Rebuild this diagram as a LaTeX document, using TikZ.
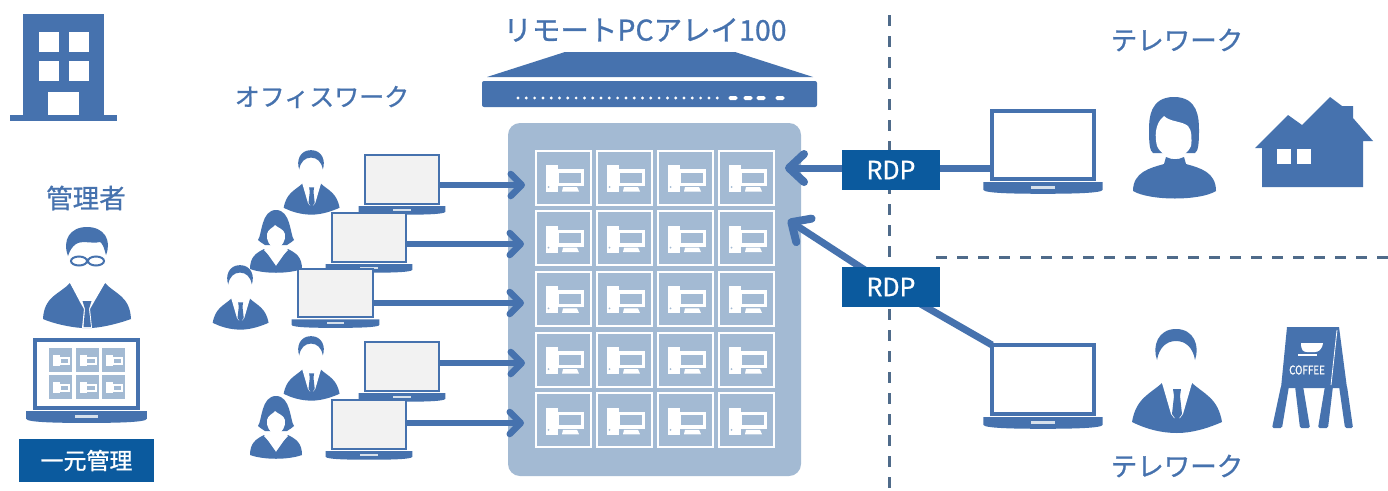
\documentclass[tikz,border=0pt]{standalone}
\usepackage{fontspec}
\setmainfont[RawFeature={embolden=0.9}]{Noto Sans CJK JP}
\usetikzlibrary{arrows.meta,calc}
\definecolor{blu}{HTML}{4672AE}
\definecolor{navy}{HTML}{0B5A9E}
\definecolor{panel}{HTML}{A3BAD3}
\definecolor{dsh}{HTML}{4F6B8A}
\tikzset{
  scr/.style={draw=blu,line width=#1,anchor=north west,inner sep=0pt,outer sep=0pt},
  ttl/.style={text=blu,inner sep=0pt,font=\fontsize{26.5}{26.5}\selectfont},
  tagbox/.style={fill=navy,text=white,inner sep=0pt,minimum height=40pt,minimum width=98pt,font=\fontsize{25}{25}\selectfont},
  thinarrow/.style={draw=blu,line width=5.5pt,-{Straight Barb[length=11pt,width=22pt,line width=6.5pt,round]}},
  bigarrow/.style={draw=blu,line width=7pt,-{Straight Barb[length=15pt,width=28pt,line width=8pt,round]}},
  plain/.style={draw=blu,line width=7pt},
  sep/.style={draw=dsh,line width=3pt,dash pattern=on 11pt off 10pt},
  pics/man/.style={code={
    \fill[blu] (-19,-72) .. controls (-24,-86) and (-18,-103) .. (0,-103) .. controls (18,-103) and (24,-86) .. (19,-72)
       .. controls (17,-84) and (10,-91) .. (0,-91) .. controls (-10,-91) and (-17,-84) .. (-19,-72) -- cycle;
    \fill[blu] (-14,-49) -- (-1,-18) -- (4,-18) -- (16,-49) .. controls (28,-38) and (42,-34) .. (46,-10)
       .. controls (30,-3) and (15,1) .. (1,1) .. controls (-15,1) and (-30,-3) .. (-44,-10) .. controls (-40,-34) and (-26,-38) .. (-14,-49) -- cycle;
    \fill[white] (-14,-49) -- (-5,-18) -- (-2,-14) -- (4,-14) -- (7,-18) -- (16,-49) -- cycle;
    \fill[blu] (-3,-43) -- (5,-43) -- (4,-36) -- (6,-18) -- (1,-11) -- (-4,-18) -- (-2,-36) -- cycle;
  }},
  pics/woman/.style={code={
    \fill[blu] (-11,-27) .. controls (-14,-29) and (-16,-30) .. (-18,-32) .. controls (-14,-37) and (-15,-62) .. (0,-62)
      .. controls (15,-62) and (14,-37) .. (18,-32) .. controls (16,-30) and (14,-29) .. (11,-27) -- cycle;
    \fill[white] (-1,-47) .. controls (2,-44) and (8,-43) .. (9,-38) .. controls (10,-32) and (6,-24) .. (0,-24)
      .. controls (-6,-24) and (-10,-32) .. (-9,-38) .. controls (-8,-43) and (-3,-44) .. (-1,-47) -- cycle;
    \fill[blu] (-12,-23) -- (0,-6) -- (12,-23) .. controls (20,-19) and (26,-15) .. (26,-3)
       .. controls (12,2) and (-12,2) .. (-26,-3) .. controls (-26,-15) and (-20,-19) .. (-12,-23) -- cycle;
    \fill[white] (-6,-25) -- (6,-25) -- (6,-21) -- (12,-22) -- (5,-15) -- (0,-8) -- (-5,-15) -- (-12,-22) -- (-6,-21) -- cycle;
  }},
  pics/pcicon/.style={code={
    \fill[white] (11,15) rectangle (23,42);
    \fill[white] (23,19) rectangle (49,36);
    \fill[panel] (23.5,22.5) rectangle (45.5,32.5);
    \fill[white] (28,37) -- (42,37) -- (44,41.5) -- (27,41.5) -- cycle;
    \fill[panel] (13.5,37) circle (1);
  }},
  pics/tile/.style={code={
    \fill[panel] (0,0) rectangle (23,24);
    \fill[white] (4,7) rectangle (11,18);
    \fill[white] (11,9) rectangle (21,17);
    \fill[panel] (11.5,11) rectangle (19,15);
  }},
}
\newcommand{\lapt}[6]{%
  \node[scr=#6,fill=#5,minimum width={(#3-#1)*1pt},minimum height={(#4-#2)*1pt}] (#2#1) at (#1,#2) {};
}
\newcommand{\lapbase}[4]{%
  \pgfmathsetmacro{\bw}{#2-#1}\pgfmathsetmacro{\bm}{\bw*0.085}\pgfmathsetmacro{\bh}{\bw*0.115}\pgfmathsetmacro{\bg}{\bw*0.03}
  \fill[blu] ({#1-\bm},{#3+\bg}) -- ({#2+\bm},{#3+\bg}) -- ({#2+\bm},{#3+\bg+\bh*.65})
     .. controls ({#2+\bm},{#3+\bg+\bh*.95}) and ({#2+\bm-\bw*.3},{#3+\bg+\bh}) .. ({(#1+#2)/2},{#3+\bg+\bh})
     .. controls ({#1-\bm+\bw*.3},{#3+\bg+\bh}) and ({#1-\bm},{#3+\bg+\bh*.95}) .. ({#1-\bm},{#3+\bg+\bh*.65}) -- cycle;
  \fill[panel!45!white] ({(#1+#2)/2-\bw*.115},{#3+\bg+\bh*.3}) rectangle ({(#1+#2)/2+\bw*.115},{#3+\bg+\bh*.55});
}
\begin{document}
\begin{tikzpicture}[x=1pt,y=-1pt]
\useasboundingbox (0,0) rectangle (1388,490);
\fill[white] (0,0) rectangle (1388,490);

% separators
\draw[sep] (889,15) -- (889,490);
\draw[sep] (936,257) -- (1388,257);

% building
\fill[blu] (23,14) rectangle (104,116);
\fill[blu] (10,115) rectangle (117,121);
\foreach \wx in {39,69} \foreach \wy in {32,61} \fill[white] (\wx,\wy) rectangle ++(20,20);
\fill[white] (48,92) rectangle (79,115);

% manager
\node[ttl] (admin) at (86,198) {管理者};
\fill[blu] (68,256) .. controls (62,240) and (70,227) .. (87,227) .. controls (104,227) and (112,240) .. (106,255)
   .. controls (104,248) and (103,244) .. (100,242) .. controls (92,244) and (82,240) .. (76,244) .. controls (72,247) and (70,250) .. (68,256) -- cycle;
\draw[blu,line width=2pt] (79,261) ellipse (8 and 4.5) (96,261) ellipse (8 and 4.5) (87,260) -- (88,260);
\fill[blu] (70,283) -- (82,303) -- (92,303) -- (105,283) .. controls (115,294) and (130,296) .. (131,319)
   .. controls (120,323) and (105,327) .. (92,328) -- (82,328) .. controls (68,327) and (52,323) .. (43,319) .. controls (44,296) and (60,294) .. (70,283) -- cycle;
\fill[white] (70,283) -- (80,302) -- (84,309) -- (82,328) -- (92,328) -- (90,309) -- (94,302) -- (105,283) -- cycle;
\fill[blu] (82.5,301) -- (91.5,301) -- (89,309) -- (91,327) -- (83.5,327) -- (85,309) -- cycle;
\lapt{35}{340}{138}{408}{white}{4pt}
\lapbase{35}{138}{408}{}
\foreach \tx in {0,1,2} \foreach \ty in {0,1} \pic at ({49+\tx*26.5},{348+\ty*27}) {tile};
\node[fill=navy,text=white,inner sep=0pt,minimum width=135pt,minimum height=43pt,font=\fontsize{23}{23}\selectfont] (mgmt) at (86.5,460.5) {一元管理};

% office
\node[ttl,font=\fontsize{25}{25}\selectfont] (office) at (322,97) {オフィスワーク};
\pic[scale=.62] at (311,214) {man};
\pic at (276,272) {woman};
\pic[scale=.62] at (240,329) {man};
\pic[scale=.62] at (311,400) {man};
\pic at (276,458) {woman};

\lapt{365}{155}{439}{204}{black!5}{2.5pt}
\lapbase{365}{439}{204}{}
\lapt{332}{213}{406}{262}{black!5}{2.5pt}
\lapbase{332}{406}{262}{}
\lapt{298}{269}{373}{317}{black!5}{2.5pt}
\lapbase{298}{373}{317}{}
\lapt{365}{342}{439}{391}{black!5}{2.5pt}
\lapbase{365}{439}{391}{}
\lapt{332}{400}{406}{449}{black!5}{2.5pt}
\lapbase{332}{406}{449}{}

% server
\node[ttl,font=\fontsize{28.5}{28.5}\selectfont] (arraylabel) at (645,30) {リモートPCアレイ100};
\fill[blu] (487,77) -- (565,52) -- (735,52) -- (813,77) -- cycle;
\fill[blu,rounded corners=2pt] (482,81) rectangle (817,107);
\foreach \i in {0,...,24} \fill[white] ({518+\i*8.3},98) circle (1.6);
\foreach \px in {733,748,761,780} \fill[white,rounded corners=1.7pt] ({\px-4.5},96) rectangle ({\px+4.5},100);

% array
\node[fill=panel,rounded corners=12pt,inner sep=0pt,minimum width=293pt,minimum height=353pt] (array) at (654.5,299.5) {};
\foreach \cx in {0,1,2,3} \foreach \cy in {0,1,2,3,4} {
  \draw[white,line width=2pt] ({536+\cx*61},{150.5+\cy*60.7}) rectangle ++(55,54);
  \pic at ({535+\cx*61},{150+\cy*60.7}) {pcicon};
}

% office arrows
\coordinate (a1) at (525,185);
\coordinate (a2) at (524,244);
\coordinate (a3) at (524,303);
\coordinate (a4) at (525,363);
\coordinate (a5) at (524,423);
\draw[thinarrow] (a1 -| 155365.east) -- (a1);
\draw[thinarrow] (a2 -| 213332.east) -- (a2);
\draw[thinarrow] (a3 -| 269298.east) -- (a3);
\draw[thinarrow] (a4 -| 342365.east) -- (a4);
\draw[thinarrow] (a5 -| 400332.east) -- (a5);

% telework
\node[ttl] (tw1) at (1177,40) {テレワーク};
\node[ttl] (tw2) at (1177,466) {テレワーク};
\lapt{992}{111}{1094}{179}{white}{3.5pt}
\lapbase{992}{1094}{179}{}
\lapt{992}{345}{1094}{414}{white}{3.5pt}
\lapbase{992}{1094}{414}{}

\coordinate (b1) at (785,168);
\coordinate (b2) at (788,220);
\coordinate (rc) at (891,287);
\draw[plain] (b1 -| 111992.west) -- (b1 -| 891,0);
\draw[bigarrow] (b1 -| 891,0) -- (b1);
\draw[plain] (345992.north west) -- (rc);
\draw[bigarrow] (rc) -- (b2);
\node[tagbox] (rdpa) at (891,170) {RDP};
\node[tagbox] (rdpb) at (rc) {RDP};

% telework woman
\fill[blu] (1174,97) .. controls (1150,97) and (1149,118) .. (1149,130) .. controls (1149,145) and (1150,151) .. (1153,153)
   -- (1195,153) .. controls (1198,151) and (1199,145) .. (1199,130) .. controls (1199,118) and (1198,97) .. (1174,97) -- cycle;
\fill[white] (1164,116) .. controls (1170,122) and (1182,121) .. (1188,126) .. controls (1192,130) and (1192,140) .. (1191,146)
   .. controls (1188,153) and (1181,158) .. (1175,158) .. controls (1168,158) and (1160,153) .. (1157,146) .. controls (1155,138) and (1154,124) .. (1164,116) -- cycle;
\fill[blu] (1166,157) .. controls (1172,160) and (1178,160) .. (1184,157) -- (1186,164) .. controls (1200,168) and (1216,172) .. (1216,191)
   .. controls (1200,201) and (1150,201) .. (1133,191) .. controls (1133,172) and (1150,168) .. (1164,164) -- cycle;

% house
\fill[blu] (1255,148) -- (1288,115) -- (1302,125) -- (1330,97) -- (1342,106) -- (1353,106) -- (1353,118) -- (1373,141) -- (1363,141) -- (1363,187) -- (1262,187) -- (1262,148) -- cycle;
\fill[white] (1277,149) rectangle (1291,164);
\fill[white] (1297,149) rectangle (1311,164);

% man lower right
\pic at (1176,432) {man};

% coffee sign
\fill[blu] (1287,327) -- (1339,327) -- (1347,388) -- (1281,388) -- cycle;
\foreach \xa/\xb/\xc/\xd in {1281/1289/1282/1272,1295/1303/1310/1300,1325/1333/1328/1318,1339/1347/1353/1345}
  \fill[blu,rounded corners=1.5pt] (\xa,386) -- (\xb,386) -- (\xc,428) -- (\xd,428) -- cycle;
\draw[white,line width=.8pt] (1337,330) -- (1331,385);
\fill[white] (1301,343) -- (1323,343) .. controls (1322,350) and (1318,352) .. (1315,352) -- (1307,352) .. controls (1303,352) and (1301,350) .. (1301,343) -- cycle;
\fill[white] (1298,354) rectangle (1317,356);
\node[text=white,inner sep=0pt,font=\fontsize{12}{12}\selectfont,xscale=.82,transform shape] (coffee) at (1307,370) {COFFEE};
\end{tikzpicture}
\end{document}
